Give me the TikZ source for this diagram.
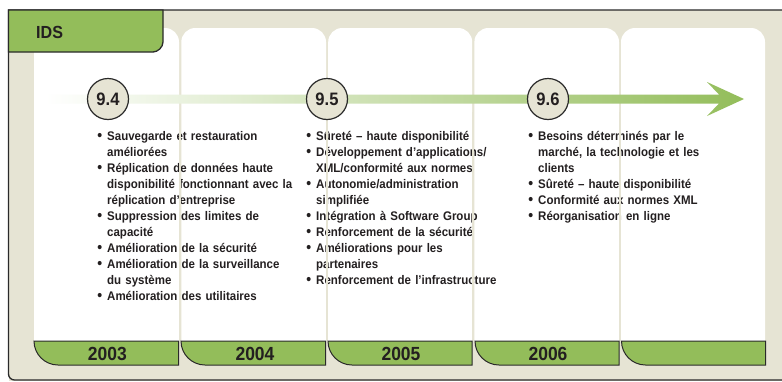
\documentclass[tikz,border=0pt]{standalone}
\usepackage{fontspec}
\setmainfont{Liberation Sans}
\newfontfamily\condfont{Liberation Sans}[FakeStretch=0.92]
\definecolor{beige}{HTML}{E6E4D4}
\definecolor{idsgreen}{HTML}{93BD5A}
\definecolor{ink}{HTML}{2A2A2A}
\definecolor{txt}{HTML}{231F20}
\newcommand\bul{\leavevmode\llap{\raisebox{-0.4pt}{\fontsize{15}{15}\selectfont\textbullet}\hspace{5pt}}}
\tikzset{
  frameline/.style={draw=ink, line width=1.3pt},
  colbox/.style={fill=white},
  divline/.style={draw=beige, line width=2pt},
  verbox/.style={circle, draw=ink, line width=1.2pt, fill=beige, minimum size=41pt, inner sep=0pt,
    font=\condfont\bfseries\fontsize{18}{18}\selectfont, text=txt},
  yearlbl/.style={font=\condfont\bfseries\fontsize{19}{19}\selectfont, text=txt, inner sep=0pt},
  yearbar/.style={fill=idsgreen, draw=ink, line width=1pt},
  itemlist/.style={anchor=base west, inner sep=0pt, text width=220pt, align=left,
    font=\condfont\bfseries\fontsize{12.5}{16}\selectfont, text=txt},
}
\begin{document}
\begin{tikzpicture}[x=1pt, y=-1pt]
\useasboundingbox (0,0) rectangle (782,381);
% frame
\fill[beige] (8.5,10) rectangle (782,381);
\draw[frameline] (782,10) -- (8.5,10) -- (8.5,374) .. controls (8.5,377.3) and (11.2,380) .. (14.5,380) -- (782,380);
% white columns
\foreach \a/\b in {34/179, 181.3/326, 328.2/472.2, 474.4/619, 621/765}{
  \fill[colbox] (\a,341) [rounded corners=14pt] -- (\a,28) -- (\b,28) [sharp corners] -- (\b,341) -- cycle;
}
% texts
\node[itemlist] (col1) at (107,140) {%
\bul Sauvegarde et restauration\\
améliorées\\
\bul Réplication de données haute\\
disponibilité fonctionnant avec la\\
réplication d’entreprise\\
\bul Suppression des limites de\\
capacité\\
\bul Amélioration de la sécurité\\
\bul Amélioration de la surveillance\\
du système\\
\bul Amélioration des utilitaires};
\node[itemlist] (col2) at (316,140) {%
\bul Sûreté – haute disponibilité\\
\bul Développement d’applications/\\
XML/conformité aux normes\\
\bul Autonomie/administration\\
simplifiée\\
\bul Intégration à Software Group\\
\bul Renforcement de la sécurité\\
\bul Améliorations pour les\\
partenaires\\
\bul Renforcement de l’infrastructure};
\node[itemlist] (col3) at (538,140) {%
\bul Besoins déterminés par le\\
marché, la technologie et les\\
clients\\
\bul Sûreté – haute disponibilité\\
\bul Conformité aux normes XML\\
\bul Réorganisation en ligne};
% dividers over text
\foreach \x in {180.2, 327.1, 473.3, 620}{
  \draw[divline] (\x,112) -- (\x,341);
}
% year bars
\foreach \a/\b in {34/178.5, 181/325.5, 328/472, 475/619, 621.5/765.5}{
  \filldraw[yearbar] (\a+24,365) .. controls (\a+10.75,365) and (\a,354.25) .. (\a,341) -- (\b,341) -- (\b,365) -- cycle;
}
\node[yearlbl] (y2003) at (107.3,353.5) {2003};
\node[yearlbl] (y2004) at (255,353.5) {2004};
\node[yearlbl] (y2005) at (401,353.5) {2005};
\node[yearlbl] (y2006) at (548,353.5) {2006};
% IDS tab
\filldraw[fill=idsgreen, draw=ink, line width=1.3pt] (8.5,10) -- (163,10) -- (163,42) .. controls (163,47.52) and (157.52,52) .. (153,52) -- (8.5,52) -- cycle;
\node[anchor=west, inner sep=0pt, font=\condfont\bfseries\fontsize{17.5}{17.5}\selectfont, text=txt] (ids) at (36,32) {IDS};
% arrow
\shade[left color=white, right color=idsgreen] (45,94.5) -- (719,94.5) -- (707,82) -- (744,99) -- (707,116) -- (719,103.5) -- (45,103.5) -- cycle;
% version circles
\node[verbox] (v94) at (108,99) {9.4};
\node[verbox] (v95) at (327,99) {9.5};
\node[verbox] (v96) at (548,99) {9.6};
\end{tikzpicture}
\end{document}
